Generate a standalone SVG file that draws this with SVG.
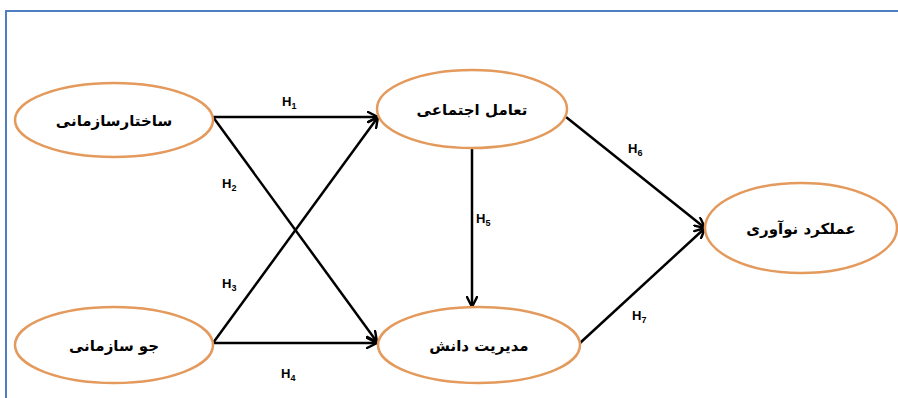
<svg xmlns="http://www.w3.org/2000/svg" width="898" height="398" viewBox="0 0 898 398">
<defs>
<marker id="arr" viewBox="0 0 12 12" refX="11" refY="6" markerWidth="12" markerHeight="12" markerUnits="userSpaceOnUse" orient="auto">
<path d="M1,1 L11,6 L1,11" fill="none" stroke="#000" stroke-width="2.4" stroke-linecap="round" stroke-linejoin="round"/>
</marker>
<style>
.node ellipse{fill:#fff;stroke:#E39A5C;stroke-width:2.5}
.node text{font-family:"DejaVu Sans",sans-serif;font-weight:bold;font-size:15px;fill:#000;text-anchor:middle}
.conn line{stroke:#000;stroke-width:2.5;marker-end:url(#arr)}
.lbl{font-family:"Liberation Sans",Arial,sans-serif;font-weight:bold;font-size:13px;fill:#000}
.lbl tspan{font-size:9px}
</style>
</defs>
<rect width="898" height="398" fill="#fff"/>
<path d="M6,398 L6,11 L898,11" fill="none" stroke="#4F7FC0" stroke-width="2"/>
<g id="connectors" class="conn">
<line x1="213" y1="117" x2="378" y2="117"/>
<line x1="213" y1="117" x2="377" y2="342"/>
<line x1="213" y1="343" x2="378" y2="117"/>
<line x1="213" y1="343" x2="377" y2="343"/>
<line x1="472" y1="147" x2="472" y2="307"/>
<line x1="566" y1="117" x2="705" y2="228"/>
<line x1="580" y1="343" x2="705" y2="228"/>
</g>
<g id="labels">
<text class="lbl" x="282" y="106">H<tspan dy="3">1</tspan></text>
<text class="lbl" x="222" y="188">H<tspan dy="3">2</tspan></text>
<text class="lbl" x="222" y="288">H<tspan dy="3">3</tspan></text>
<text class="lbl" x="281" y="378">H<tspan dy="3">4</tspan></text>
<text class="lbl" x="476" y="223">H<tspan dy="3">5</tspan></text>
<text class="lbl" x="628" y="153">H<tspan dy="3">6</tspan></text>
<text class="lbl" x="632" y="320">H<tspan dy="3">7</tspan></text>
</g>
<g id="n1" class="node">
<ellipse cx="114" cy="120" rx="99" ry="37"/>
<text x="114" y="126">ساختارسازمانی</text>
</g>
<g id="n2" class="node">
<ellipse cx="472" cy="109" rx="95" ry="39"/>
<text x="472" y="115">تعامل اجتماعی</text>
</g>
<g id="n3" class="node">
<ellipse cx="114" cy="345" rx="99" ry="38"/>
<text x="114" y="351">جو سازمانی</text>
</g>
<g id="n4" class="node">
<ellipse cx="479" cy="345" rx="101" ry="38"/>
<text x="479" y="351">مدیریت دانش</text>
</g>
<g id="n5" class="node">
<ellipse cx="801" cy="228" rx="96" ry="45"/>
<text x="801" y="234">عملکرد نوآوری</text>
</g>
</svg>
